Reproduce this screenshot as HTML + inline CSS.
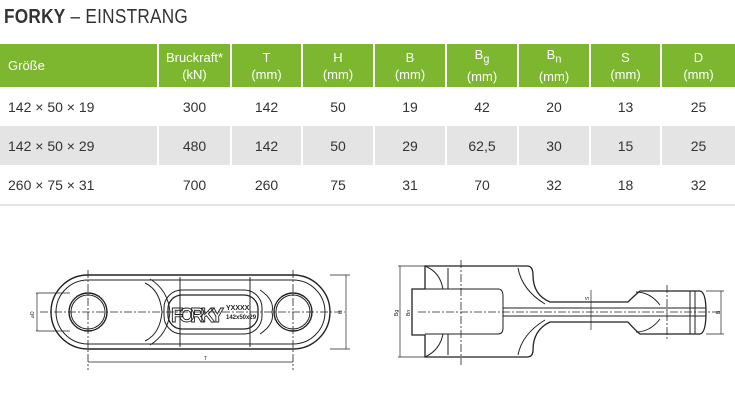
<!DOCTYPE html>
<html><head><meta charset="utf-8"><style>
body{margin:0;width:735px;height:420px;background:#fff;overflow:hidden;font-family:"Liberation Sans",sans-serif;}
.t{position:absolute;left:4px;top:6px;font-size:20px;color:#333;letter-spacing:0.3px;transform:scaleX(0.86);transform-origin:0 0;white-space:nowrap}
.t b{font-weight:900}
table{position:absolute;left:0;top:44px;border-collapse:collapse;width:735px;table-layout:fixed}
td{text-align:center;font-size:14px;color:#333;padding:0;border-left:2px solid #fff}
tr.h td{background:#7db72f;color:#fff;height:43px;font-size:13px;line-height:17px}
tr.r td{height:39px}
tr.g td{background:#e4e4e4}
tr.r td:first-child,tr.h td:first-child{text-align:left;padding-left:8px;border-left:none}
tr.last td{border-bottom:2px solid #e4e4e4}
svg{position:absolute;left:0;top:0}
</style></head><body>
<div class="t"><b>FORKY</b> – EINSTRANG</div>
<table>
<colgroup><col style="width:158px"><col style="width:73px"><col style="width:71px"><col style="width:72px"><col style="width:72px"><col style="width:72px"><col style="width:72px"><col style="width:71px"><col style="width:74px"></colgroup>
<tr class="h"><td>Größe</td><td>Bruckraft*<br>(kN)</td><td>T<br>(mm)</td><td>H<br>(mm)</td><td>B<br>(mm)</td><td>B<sub>g</sub><br>(mm)</td><td>B<sub>n</sub><br>(mm)</td><td>S<br>(mm)</td><td>D<br>(mm)</td></tr>
<tr class="r"><td>142 × 50 × 19</td><td>300</td><td>142</td><td>50</td><td>19</td><td>42</td><td>20</td><td>13</td><td>25</td></tr>
<tr class="r g"><td>142 × 50 × 29</td><td>480</td><td>142</td><td>50</td><td>29</td><td>62,5</td><td>30</td><td>15</td><td>25</td></tr>
<tr class="r last"><td>260 × 75 × 31</td><td>700</td><td>260</td><td>75</td><td>31</td><td>70</td><td>32</td><td>18</td><td>32</td></tr>
</table>
<svg width="735" height="420" fill="none" stroke="#222" stroke-width="1">
<path d="M88 275 H293 A37 37 0 0 1 293 349 H88 A37 37 0 0 1 88 275 Z" stroke-width="1.4"/>
<path d="M88 280 H293 A32 32 0 0 1 293 344 H88 A32 32 0 0 1 88 280 Z"/>
<circle cx="88" cy="312" r="19" stroke-width="1.4"/><circle cx="88" cy="312" r="17"/>
<circle cx="293" cy="312" r="19" stroke-width="1.4"/><circle cx="293" cy="312" r="17"/>
<path d="M145 283 Q160 290 162 312 Q160 334 145 341"/>
<path d="M150 279 Q168 290 170 312 Q168 334 150 345"/>
<rect x="168" y="295" width="90" height="34" rx="14" stroke-width="1.3"/>
<rect x="164" y="290" width="98" height="44" rx="18"/>
<line x1="180" y1="277" x2="180" y2="347"/><line x1="250" y1="277" x2="250" y2="347"/>
<path d="M260 290 Q275 300 272 312 Q275 324 260 334"/>
<text x="171" y="322" font-family="Liberation Sans" font-size="20" font-weight="bold" fill="none" stroke="#222" stroke-width="0.9" textLength="53">FORKY</text>
<text x="226" y="310" font-size="7" fill="#222" stroke="none" font-weight="bold">YXXXX</text>
<text x="226" y="319" font-size="6" fill="#222" stroke="none" font-weight="bold">142x50x29</text>
<g stroke-dasharray="8 2 2 2" stroke-width="0.8"><line x1="40" y1="312" x2="345" y2="312"/><line x1="88" y1="270" x2="88" y2="370"/><line x1="293" y1="270" x2="293" y2="370"/></g>
<g stroke-width="0.7"><line x1="88" y1="362" x2="293" y2="362"/><line x1="330" y1="275" x2="350" y2="275"/><line x1="330" y1="349" x2="350" y2="349"/><line x1="346" y1="275" x2="346" y2="349"/>
<line x1="36" y1="293" x2="70" y2="293"/><line x1="36" y1="331" x2="70" y2="331"/><line x1="37" y1="293" x2="37" y2="331"/></g>
<text x="204" y="360" font-size="5" fill="#222" stroke="none">T</text>
<text x="342" y="314" font-size="5" fill="#222" stroke="none" transform="rotate(-90 342 314)">H</text>
<text x="34" y="318" font-size="5" fill="#222" stroke="none" transform="rotate(-90 34 318)">⌀D</text>
<path d="M425 266 H527 Q533 266 533 275 Q533 295 550 302 H628 Q635 295 640 291 H700 Q706 292 706 312 Q706 333 700 334 H640 Q635 330 628 322 H550 Q533 330 533 350 Q533 357 527 357 H425 V335 H412 V289 H425 Z" stroke-width="1.3"/>
<path d="M425 289 H498 Q503 289 503 296 V328 Q503 334 498 334 H425"/>
<path d="M425 266 Q440 272 443 289 M425 357 Q440 350 443 334"/>
<line x1="503" y1="308" x2="706" y2="308"/><line x1="503" y1="316" x2="706" y2="316"/>
<path d="M518 268 Q522 290 545 304 M518 355 Q522 334 545 320"/>
<path d="M636 292 Q650 292 660 305 M636 332 Q650 332 660 319"/>
<line x1="690" y1="291" x2="690" y2="334"/><line x1="695" y1="291" x2="695" y2="334"/>
<line x1="448" y1="268" x2="448" y2="289"/><line x1="448" y1="334" x2="448" y2="355"/>
<g stroke-dasharray="8 2 2 2" stroke-width="0.8"><line x1="418" y1="312" x2="722" y2="312"/><line x1="461" y1="260" x2="461" y2="365"/><line x1="667" y1="285" x2="667" y2="340"/></g>
<g stroke-width="0.7"><line x1="400" y1="266" x2="400" y2="357"/><line x1="398" y1="266" x2="425" y2="266"/><line x1="398" y1="357" x2="425" y2="357"/>
<line x1="412" y1="289" x2="412" y2="334"/>
<line x1="721" y1="291" x2="721" y2="334"/><line x1="706" y1="291" x2="724" y2="291"/><line x1="706" y1="334" x2="724" y2="334"/>
<line x1="591" y1="290" x2="591" y2="330"/></g>
<text x="398" y="316" font-size="5" fill="#222" stroke="none" transform="rotate(-90 398 316)">Bg</text>
<text x="410" y="316" font-size="5" fill="#222" stroke="none" transform="rotate(-90 410 316)">Bn</text>
<text x="720" y="314" font-size="5" fill="#222" stroke="none" transform="rotate(-90 720 314)">B</text>
<text x="589" y="300" font-size="5" fill="#222" stroke="none" transform="rotate(-90 589 300)">S</text>
</svg>
</body></html>
